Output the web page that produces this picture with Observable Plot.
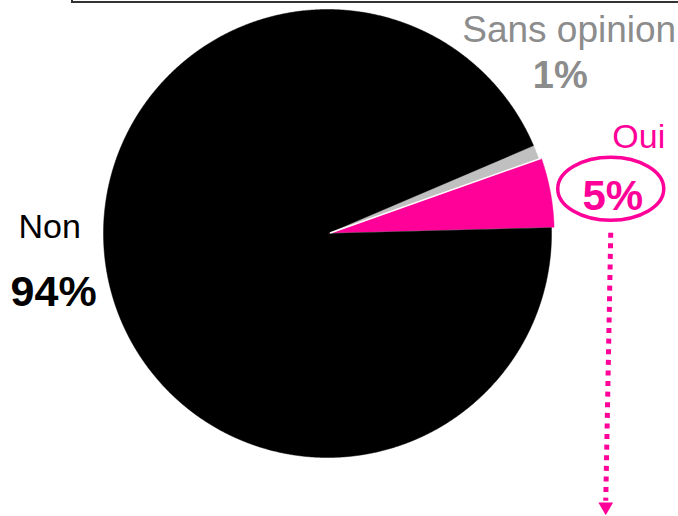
<!DOCTYPE html>
<html><head><meta charset="utf-8">
<script src="https://cdn.jsdelivr.net/npm/d3@7"></script>
<script src="https://cdn.jsdelivr.net/npm/@observablehq/plot@0.6"></script>
<style>
html,body{margin:0;padding:0;background:#fff;}
#wrap{position:relative;width:678px;height:516px;overflow:hidden;background:#fff;}
#box{position:absolute;left:71px;top:-19px;width:700px;height:18px;border:2px solid #333;}
#wrap svg{position:absolute;left:0;top:0;}
</style></head><body><div id="wrap"><div id="box"></div></div>
<script>
// ---- data ----
const categories = ["Oui", "Non", "Sans opinion"];
const values = [5, 94, 1];
const valueLabels = ["5%", "94%", "1%"];
const sliceColors = ["#FF0099", "#000000", "#C0C0C0"];
const textColors = ["#FF0099", "#000000", "#8C8C8C"];
const drawOrder = ["Sans opinion", "Oui", "Non"];

// ---- layout ----
const W = 678, H = 516, R = 224, CX = 327, CY = 233;
const deg = Math.PI / 180;
const start = 66.9 * deg;
const explode = {"Oui": 0.012};
const FONT = "'Liberation Sans', Arial, sans-serif";
const PINK = sliceColors[0];

const rows = categories.map((c, i) => ({category: c, value: values[i], label: valueLabels[i], tcolor: textColors[i]}));
const ordered = drawOrder.map(c => rows.find(r => r.category === c));
const arcs = d3.pie().sort(null).value(d => d.value).startAngle(start).endAngle(start + 2 * Math.PI)(ordered);

const slicePoints = arcs.flatMap(a => {
  const category = a.data.category;
  const e = explode[category] || 0;
  const mid = (a.startAngle + a.endAngle) / 2;
  const ox = e * Math.sin(mid), oy = e * Math.cos(mid);
  const n = Math.max(2, Math.ceil((a.endAngle - a.startAngle) / (0.25 * deg)));
  const pts = [{category, x: ox, y: oy}];
  for (let k = 0; k <= n; k++) {
    const t = a.startAngle + (a.endAngle - a.startAngle) * k / n;
    pts.push({category, x: ox + Math.sin(t), y: oy + Math.cos(t)});
  }
  pts.push({category, x: ox, y: oy});
  return pts;
});

const anchors = Object.fromEntries(arcs.map(a => {
  const m = (a.startAngle + a.endAngle) / 2;
  const e = explode[a.data.category] || 0;
  return [a.data.category, {...a.data, x: Math.sin(m), y: Math.cos(m),
    sx: e * Math.sin(m), sy: e * Math.cos(m),
    ex: e * Math.sin(m) + Math.sin(a.startAngle), ey: e * Math.cos(m) + Math.cos(a.startAngle)}];
}));

const ellipse = {draw(ctx) {
  const rx = 53, ry = 31.5, k = 0.5523;
  ctx.moveTo(rx, 0);
  ctx.bezierCurveTo(rx, ry * k, rx * k, ry, 0, ry);
  ctx.bezierCurveTo(-rx * k, ry, -rx, ry * k, -rx, 0);
  ctx.bezierCurveTo(-rx, -ry * k, -rx * k, -ry, 0, -ry);
  ctx.bezierCurveTo(rx * k, -ry, rx, -ry * k, rx, 0);
  ctx.closePath();
}};

const txt = (key, field, opts) => Plot.text([anchors[key]], {
  x: "x", y: "y", text: field, fill: d => d.tcolor,
  textAnchor: "middle", lineAnchor: "bottom", fontFamily: FONT, ...opts
});

const chart = Plot.plot({
  width: W, height: H, margin: 0,
  style: {background: "transparent", overflow: "visible"},
  x: {axis: null, domain: [-CX / R, (W - CX) / R]},
  y: {axis: null, domain: [-(H - CY) / R, CY / R]},
  color: {domain: categories, range: sliceColors},
  marks: [
    Plot.line(slicePoints, {x: "x", y: "y", z: "category", fill: "category", stroke: "category", strokeWidth: 0.5, curve: "linear"}),
    Plot.link([anchors["Oui"]], {x1: "sx", y1: "sy", x2: "ex", y2: "ey", stroke: "white", strokeWidth: 1.5}),
    txt("Sans opinion", "category", {dx: 33, dy: -110, fontSize: 37}),
    txt("Sans opinion", "label", {dx: 24, dy: -64, fontSize: 38, fontWeight: "bold"}),
    txt("Oui", "category", {dx: 91, dy: -45, fontSize: 34}),
    Plot.dot([anchors["Oui"]], {x: "x", y: "y", symbol: ellipse, dx: 63, dy: -4, stroke: PINK, strokeWidth: 3.5, fill: "white"}),
    txt("Oui", "label", {dx: 65, dy: 17, fontSize: 42, fontWeight: "bold"}),
    Plot.link([anchors["Oui"]], {x1: "x", y1: "y", x2: d => d.x - 5 / R, y2: d => d.y - 268 / R, dx: 63, dy: 40, stroke: PINK, strokeWidth: 5, strokeDasharray: "5,5.6"}),
    Plot.dot([anchors["Oui"]], {x: d => d.x - 5 / R, y: d => d.y - 274 / R, dx: 63, dy: 40, symbol: "triangle", r: 5.5, rotate: 180, fill: PINK, stroke: "none"}),
    txt("Non", "category", {dx: -59, dy: -43, fontSize: 34}),
    txt("Non", "label", {dx: -55, dy: 25, fontSize: 43, fontWeight: "bold"})
  ]
});
document.getElementById("wrap").appendChild(chart);
</script></body></html>
